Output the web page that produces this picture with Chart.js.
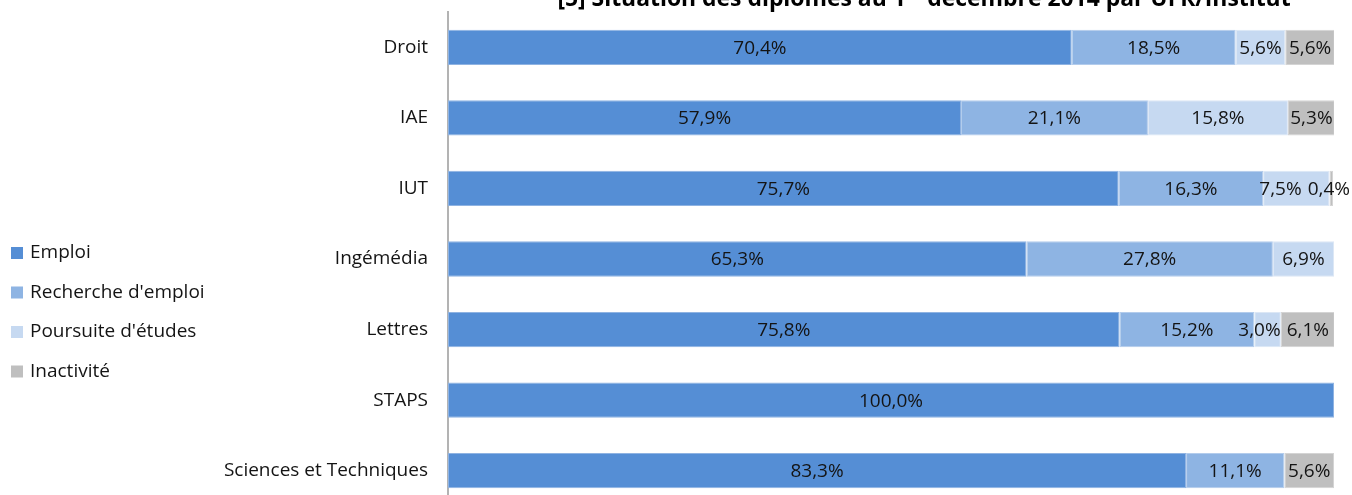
<!DOCTYPE html>
<html>
<head>
<meta charset="utf-8">
<script src="https://cdn.jsdelivr.net/npm/chart.js@4"></script>
<style>
html, body { margin: 0; padding: 0; overflow: hidden; background: #fff; }
#wrap { position: relative; width: 1352px; height: 506px; }
</style>
</head>
<body>
<div id="wrap"><canvas id="ufr"></canvas></div>
<script>
var categories = ["Droit", "IAE", "IUT", "Ingémédia", "Lettres", "STAPS", "Sciences et Techniques"];
var seriesNames = ["Emploi", "Recherche d'emploi", "Poursuite d'études", "Inactivité"];
var emploi = [70.4, 57.9, 75.7, 65.3, 75.8, 100.0, 83.3];
var recherche = [18.5, 21.1, 16.3, 27.8, 15.2, 0, 11.1];
var poursuite = [5.6, 15.8, 7.5, 6.9, 3.0, 0, 0];
var inactivite = [5.6, 5.3, 0.4, 0, 6.1, 0, 5.6];
var barColors = ["#558ED5", "#8EB4E3", "#C6D9F1", "#BFBFBF"];
var edgeColors = ["#8FB3E2", "#B3CCEC", "#DCE7F5", "#D4D4D4"];

var values = [emploi, recherche, poursuite, inactivite];
var FONT = "'Open Sans'";
var SIZE = 19;

// labels, legend on the left and the (cropped) title
var decorate = {
  id: "decorate",
  afterDatasetsDraw: function(chart) {
    var ctx = chart.ctx;
    ctx.save();
    ctx.font = SIZE + "px " + FONT;
    ctx.fillStyle = "#141414";
    ctx.textAlign = "center";
    ctx.textBaseline = "middle";
    categories.forEach(function(c, j) {
      // collect the labels of one bar, then push them apart if they overlap
      var row = [];
      chart.data.datasets.forEach(function(ds, i) {
        var v = ds.data[j];
        if (!v) return;
        var p = chart.getDatasetMeta(i).data[j].getProps(["x", "y", "base"], true);
        var txt = v.toFixed(1).replace(".", ",") + "%";
        row.push({ txt: txt, cx: (p.x + p.base) / 2, y: p.y + 1, w: ctx.measureText(txt).width });
      });
      var limit = chart.width - 2;
      for (var k = row.length - 1; k >= 0; k--) {
        var r = row[k];
        if (r.cx + r.w / 2 > limit) r.cx = limit - r.w / 2;
        limit = r.cx - r.w / 2 - 6;
      }
      row.forEach(function(r) { ctx.fillText(r.txt, r.cx, r.y); });
    });
    ctx.restore();
  },
  afterDraw: function(chart) {
    var ctx = chart.ctx;
    ctx.save();
    // legend
    ctx.font = SIZE + "px " + FONT;
    ctx.textBaseline = "middle";
    ctx.textAlign = "left";
    seriesNames.forEach(function(name, i) {
      var cy = 253 + i * 39.5;
      ctx.fillStyle = barColors[i];
      ctx.fillRect(11, cy - 6, 12, 12);
      ctx.fillStyle = "#141414";
      ctx.fillText(name, 30, cy);
    });
    // title, only its lower part is visible
    var a = "[5] Situation des diplômés au 1";
    var sup = "er";
    var b = " décembre 2014 par UFR/Institut";
    ctx.font = "bold 20px " + FONT;
    var fs = 20 * 718 / ctx.measureText(a + b).width;
    ctx.font = "bold " + fs + "px " + FONT;
    var wa = ctx.measureText(a).width;
    var wb = ctx.measureText(b).width;
    ctx.font = "bold " + (fs * 0.65) + "px " + FONT;
    var ws = ctx.measureText(sup).width;
    var x0 = 924 - (wa + ws + wb) / 2;
    ctx.fillStyle = "#000";
    ctx.textBaseline = "alphabetic";
    ctx.fillText(sup, x0 + wa, -2);
    ctx.font = "bold " + fs + "px " + FONT;
    ctx.fillText(a, x0, 6);
    ctx.fillText(b, x0 + wa + ws, 6);
    ctx.restore();
  }
};

new Chart("ufr", {
  type: "bar",
  data: {
    labels: categories,
    datasets: seriesNames.map(function(name, i) {
      return {
        label: name,
        data: values[i],
        backgroundColor: barColors[i],
        borderColor: edgeColors[i],
        borderWidth: 1,
        borderSkipped: false,
        barPercentage: 0.5,
        categoryPercentage: 1.0
      };
    })
  },
  options: {
    indexAxis: "y",
    responsive: true,
    maintainAspectRatio: false,
    animation: false,
    layout: { padding: { top: 12, right: 18, bottom: 0, left: 0 } },
    plugins: {
      legend: { display: false },
      title: { display: false },
      tooltip: { enabled: false }
    },
    scales: {
      x: { stacked: true, display: false, min: 0, max: 100 },
      y: {
        stacked: true,
        afterFit: function(s) {
          s.width = 448;
          s.paddingTop = 0;
          s.paddingBottom = 0;
        },
        grid: { display: false, drawTicks: false },
        border: { display: true, color: "#B3B3B3", width: 2 },
        ticks: { padding: 20, color: "#141414", font: { family: FONT, size: SIZE } }
      }
    }
  },
  plugins: [decorate]
});
</script>
</body>
</html>
